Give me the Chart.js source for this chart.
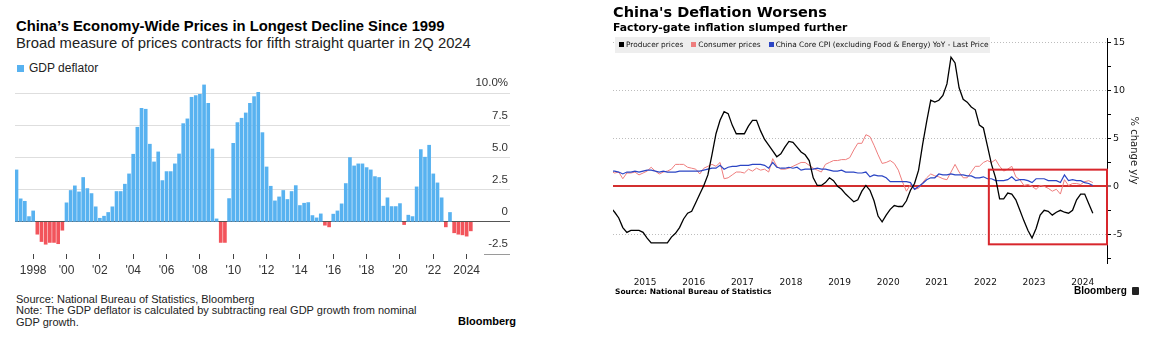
<!DOCTYPE html>
<html>
<head>
<meta charset="utf-8">
<title>China prices</title>
<script src="https://cdn.jsdelivr.net/npm/chart.js@4.4.1/dist/chart.umd.min.js"></script>
<style>
  body { margin: 0; width: 1154px; height: 337px; position: relative; overflow: hidden; background: #fff; color: #000; font-family: "Liberation Sans", Arial, sans-serif; }
  .abs { position: absolute; white-space: nowrap; }
  canvas { position: absolute; }
  /* left panel */
  #gdp-title { left: 16px; top: 17.5px; font-size: 14.8px; line-height: 17px; font-weight: bold; }
  #gdp-sub { left: 16px; top: 35px; font-size: 14.8px; line-height: 17px; color: #222; }
  #gdp-sq { left: 17px; top: 65px; width: 7px; height: 7px; background: #58b2f0; }
  #gdp-leg { left: 29px; top: 60.5px; font-size: 12px; line-height: 14px; color: #222; }
  #gdp-foot { left: 16px; top: 293.5px; font-size: 11px; line-height: 11.8px; color: #222; }
  #gdp-logo { left: 458px; top: 315px; font-size: 11px; line-height: 12px; font-weight: bold; }
  /* right panel */
  .r { font-family: "DejaVu Sans", sans-serif; }
  #cn-title { left: 613px; top: 3.8px; font-size: 14.5px; line-height: 17px; font-weight: bold; }
  #cn-sub { left: 613px; top: 20.5px; font-size: 10.8px; line-height: 13px; font-weight: bold; }
  #cn-leg { left: 615px; top: 37px; width: 375px; height: 16px; background: #eeeeee; font-size: 7.4px; line-height: 16px; padding-left: 4px; box-sizing: border-box; color: #111; }
  #cn-leg .sq { display: inline-block; width: 5px; height: 5px; margin-right: 2px; }
  #cn-leg .it { margin-right: 8px; }
  #cn-src { left: 615px; top: 287px; font-size: 7.5px; line-height: 10px; font-weight: bold; }
  #cn-logo { left: 1074px; top: 285px; font-size: 10px; line-height: 12px; font-weight: bold; font-family: "Liberation Sans", Arial, sans-serif; }
  #cn-icon { left: 1132px; top: 287px; width: 7px; height: 8px; background: #222; border-radius: 1px; }
</style>
</head>
<body>

<div id="gdp-title" class="abs">China’s Economy-Wide Prices in Longest Decline Since 1999</div>
<div id="gdp-sub" class="abs">Broad measure of prices contracts for fifth straight quarter in 2Q 2024</div>
<div id="gdp-sq" class="abs"></div>
<div id="gdp-leg" class="abs">GDP deflator</div>
<canvas id="gdp" width="540" height="215" style="left:0;top:70px"></canvas>
<div id="gdp-foot" class="abs">Source: National Bureau of Statistics, Bloomberg<br>Note: The GDP deflator is calculated by subtracting real GDP growth from nominal<br>GDP growth.</div>
<div id="gdp-logo" class="abs">Bloomberg</div>

<canvas id="cn" width="554" height="300" style="left:600px;top:0"></canvas>
<div id="cn-title" class="abs r">China's Deflation Worsens</div>
<div id="cn-sub" class="abs r">Factory-gate inflation slumped further</div>
<div id="cn-leg" class="abs r"><span class="sq" style="background:#000"></span><span class="it">Producer prices</span><span class="sq" style="background:#ee7d7d"></span><span class="it">Consumer prices</span><span class="sq" style="background:#2b45c4"></span><span>China Core CPI (excluding Food &amp; Energy) YoY - Last Price</span></div>
<div id="cn-src" class="abs r">Source: National Bureau of Statistics</div>
<div id="cn-logo" class="abs">Bloomberg</div>
<div id="cn-icon" class="abs"></div>

<script>
// GDP deflator, % y/y, quarterly from 1Q 1997
const gdpStartYear = 1997;
const gdpDeflator = [
  4.04, 1.79, 1.60, 0.41,     // 1997
  0.85, -0.96, -1.53, -1.74,  // 1998
  -1.60, -1.60, -1.70, -0.65, // 1999
  1.48, 2.44, 2.80, 2.33,     // 2000
  3.45, 2.59, 2.20, 1.17,     // 2001
  0.28, 0.44, 0.73, 1.17,     // 2002
  2.36, 2.36, 2.93, 3.73,     // 2003
  5.26, 7.36, 8.83, 8.76,     // 2004
  6.04, 4.66, 5.44, 3.21,     // 2005
  3.91, 3.91, 4.51, 5.28,     // 2006
  7.64, 8.01, 9.69, 9.82,     // 2007
  9.92, 10.65, 9.22, 5.67,    // 2008
  0.23, -1.60, -1.60, 1.81,   // 2009
  6.11, 7.72, 8.06, 8.47,     // 2010
  9.22, 9.74, 10.08, 6.94,    // 2011
  4.27, 2.77, 1.63, 1.94,     // 2012
  2.44, 1.74, 2.36, 2.82,     // 2013
  1.27, 1.45, 1.50, 0.49,     // 2014
  0.31, 0.62, -0.26, -0.39,   // 2015
  0.60, 0.85, 1.40, 2.98,     // 2016
  5.00, 4.35, 4.51, 4.51,     // 2017
  4.22, 4.04, 3.52, 3.45,     // 2018
  1.22, 1.87, 1.19, 1.19,     // 2019
  1.42, -0.21, 0.52, 0.41,    // 2020
  2.72, 5.62, 5.03, 5.96,     // 2021
  3.73, 3.03, 1.87, -0.39,    // 2022
  0.73, -0.85, -0.96, -1.01,  // 2023
  -1.11, -0.70                // 2024
];
const gdpTickYears = [1998, 2000, 2002, 2004, 2006, 2008, 2010, 2012, 2014, 2016, 2018, 2020, 2022, 2024];
const gdpTickLabels = ["1998", "'00", "'02", "'04", "'06", "'08", "'10", "'12", "'14", "'16", "'18", "'20", "'22", "2024"];
const gdpYTicks = [-2.5, 0, 2.5, 5, 7.5, 10];
const gdpYLabels = ["-2.5", "0", "2.5", "5.0", "7.5", "10.0%"];

// China monthly % y/y, from Oct 2014
const cnStart = 2014 + 9 / 12;
const producerPrices = [
  -2.2, -2.7, -3.3,
  -4.3, -4.8, -4.6, -4.6, -4.6, -4.8, -5.4, -5.9, -5.9, -5.9, -5.9, -5.9,
  -5.3, -4.9, -4.3, -3.4, -2.8, -2.6, -1.7, -0.8, 0.1, 1.2, 3.3, 5.5,
  6.9, 7.8, 7.6, 6.4, 5.5, 5.5, 5.5, 6.3, 6.9, 6.9, 5.8, 4.9,
  4.3, 3.7, 3.1, 3.4, 4.1, 4.7, 4.6, 4.1, 3.6, 3.3, 2.7, 0.9,
  0.1, 0.1, 0.4, 0.9, 0.6, 0.0, -0.3, -0.8, -1.2, -1.6, -1.4, -0.5,
  0.1, -0.4, -1.5, -3.1, -3.7, -3.0, -2.4, -2.0, -2.1, -2.1, -1.5, -0.4,
  0.3, 1.7, 4.4, 6.8, 9.0, 8.8, 9.0, 9.5, 10.7, 13.5, 12.9, 10.3,
  9.1, 8.8, 8.3, 8.0, 6.4, 6.1, 4.2, 2.3, 0.9, -1.3, -1.3, -0.7,
  -0.8, -1.4, -2.5, -3.6, -4.6, -5.4, -4.4, -3.0, -2.5, -2.6, -3.0, -2.7,
  -2.5, -2.7, -2.8, -2.5, -1.4, -0.8, -0.8, -1.8, -2.8
];
const consumerPrices = [
  1.6, 1.4, 1.5,
  0.8, 1.4, 1.4, 1.5, 1.2, 1.4, 1.6, 2.0, 1.6, 1.3, 1.5, 1.6,
  1.8, 2.3, 2.3, 2.3, 2.0, 1.9, 1.8, 1.3, 1.9, 2.1, 2.3, 2.1,
  2.5, 0.8, 0.9, 1.2, 1.5, 1.5, 1.4, 1.8, 1.6, 1.9, 1.7, 1.8,
  1.5, 2.9, 2.1, 1.8, 1.8, 1.9, 2.1, 2.3, 2.5, 2.5, 2.2, 1.9,
  1.7, 1.5, 2.3, 2.5, 2.7, 2.7, 2.8, 2.8, 3.0, 3.8, 4.5, 4.5,
  5.4, 5.2, 4.3, 3.3, 2.4, 2.5, 2.7, 2.4, 1.7, 0.5, -0.5, 0.2,
  -0.3, -0.2, 0.4, 0.9, 1.3, 1.1, 1.0, 0.8, 0.7, 1.5, 2.3, 1.5,
  0.9, 0.9, 1.5, 2.1, 2.1, 2.5, 2.7, 2.5, 2.8, 2.1, 1.6, 1.8,
  2.1, 1.0, 0.7, 0.1, 0.2, 0.0, -0.3, 0.1, 0.0, -0.2, -0.5, -0.3,
  -0.8, 0.7, 0.1, 0.3, 0.3, 0.2, 0.5, 0.6, 0.4
];
const coreCpi = [
  1.6, 1.6, 1.5,
  1.3, 1.5, 1.5, 1.6, 1.5, 1.6, 1.7, 1.7, 1.6, 1.5, 1.6, 1.5,
  1.5, 1.5, 1.6, 1.6, 1.6, 1.6, 1.6, 1.6, 1.7, 1.8, 1.9, 1.9,
  2.2, 1.8, 2.0, 2.1, 2.1, 2.2, 2.2, 2.2, 2.3, 2.3, 2.3, 2.2,
  1.9, 2.5, 2.0, 1.9, 1.9, 2.0, 1.9, 2.0, 1.7, 1.8, 1.8, 1.8,
  1.9, 1.8, 1.8, 1.7, 1.6, 1.6, 1.7, 1.5, 1.5, 1.5, 1.4, 1.4,
  1.5, 1.0, 1.2, 1.1, 1.1, 0.9, 0.5, 0.5, 0.5, 0.5, 0.5, 0.4,
  -0.3, 0.0, 0.3, 0.7, 0.9, 0.9, 1.3, 1.2, 1.2, 1.3, 1.2, 1.2,
  1.2, 1.1, 1.1, 0.9, 0.9, 1.0, 0.8, 0.8, 0.6, 0.6, 0.6, 0.7,
  1.0, 0.6, 0.7, 0.7, 0.6, 0.4, 0.8, 0.8, 0.8, 0.6, 0.6, 0.6,
  0.4, 1.2, 0.6, 0.7, 0.6, 0.6, 0.4, 0.3, 0.1
];
const cnYears = [2015, 2016, 2017, 2018, 2019, 2020, 2021, 2022, 2023, 2024];
const cnYTicks = [-7.5, -5, -2.5, 0, 2.5, 5, 7.5, 10, 12.5, 15];
const highlight = { from: 2022.57, to: 2025.0, top: 1.75, bottom: -6.05 };

const BLUE = "#58b2f0";
const RED = "#f2545b";

// short stub of the bottom gridline, only under its label
const lowGridStub = {
  id: "lowGridStub",
  beforeDatasetsDraw(chart) {
    const { ctx, chartArea, scales: { y } } = chart;
    const py = Math.round(y.getPixelForValue(gdpYTicks[0])) + 0.5;
    ctx.save();
    ctx.strokeStyle = "#9a9a9a";
    ctx.lineWidth = 1;
    ctx.beginPath();
    ctx.moveTo(chartArea.right - 26, py);
    ctx.lineTo(chartArea.right, py);
    ctx.stroke();
    ctx.restore();
  }
};

new Chart(document.getElementById("gdp"), {
  type: "bar",
  data: {
    datasets: [{
      data: gdpDeflator.map((v, i) => ({ x: gdpStartYear + i / 4, y: v })),
      backgroundColor: c => (c.raw && c.raw.y < 0 ? RED : BLUE),
      borderWidth: 0,
      barThickness: 3
    }]
  },
  options: {
    responsive: false,
    animation: false,
    layout: { padding: { left: 15, top: 13, right: 0, bottom: 0 } },
    plugins: { legend: { display: false }, tooltip: { enabled: false } },
    scales: {
      x: {
        type: "linear",
        min: 1996.91,
        max: 2026.6,
        offset: false,
        afterBuildTicks: s => { s.ticks = gdpTickYears.map(v => ({ value: v })); },
        ticks: {
          callback: v => gdpTickLabels[gdpTickYears.indexOf(v)],
          font: { family: "Liberation Sans", size: 12 },
          color: "#333",
          padding: 4,
          maxRotation: 0,
          autoSkip: false
        },
        grid: { drawOnChartArea: false, offset: false, tickLength: 5, tickColor: "#444" },
        border: { display: false },
        afterFit: s => { s.height = 31; }
      },
      y: {
        position: "right",
        min: -2.5,
        max: 10.8,
        afterBuildTicks: s => { s.ticks = gdpYTicks.map(v => ({ value: v })); },
        ticks: {
          mirror: true,
          padding: -2,
          labelOffset: -10,
          callback: v => gdpYLabels[gdpYTicks.indexOf(v)],
          font: { family: "Liberation Sans", size: 11.5 },
          color: "#333"
        },
        grid: {
          drawTicks: false,
          color: c => {
            const v = c.tick ? c.tick.value : null;
            if (v === 0) return "#555";
            if (v === gdpYTicks[0]) return "rgba(0,0,0,0)";
            return "#dedede";
          }
        },
        border: { display: false },
        afterFit: s => { s.width = 30; }
      }
    }
  },
  plugins: [lowGridStub]
});

// red frame over the latest period
const highlightBox = {
  id: "highlightBox",
  afterDatasetsDraw(chart) {
    const { ctx, scales: { x, y } } = chart;
    const l = x.getPixelForValue(highlight.from), r = x.getPixelForValue(highlight.to);
    const t = y.getPixelForValue(highlight.top), b = y.getPixelForValue(highlight.bottom);
    ctx.save();
    ctx.strokeStyle = "#d8262c";
    ctx.lineWidth = 2;
    ctx.strokeRect(l, t, r - l, b - t);
    ctx.restore();
  }
};

const monthly = arr => arr.map((v, i) => ({ x: cnStart + (i + 0.5) / 12, y: v }));

new Chart(document.getElementById("cn"), {
  type: "line",
  data: {
    datasets: [
      { data: monthly(producerPrices), borderColor: "#000", borderWidth: 1.3, pointRadius: 0 },
      { data: monthly(coreCpi), borderColor: "#2b45c4", borderWidth: 1.2, pointRadius: 0 },
      { data: monthly(consumerPrices), borderColor: "#ee7d7d", borderWidth: 1, pointRadius: 0 }
    ]
  },
  options: {
    responsive: false,
    animation: false,
    layout: { padding: { left: 13, top: 38, right: 14, bottom: 0 } },
    plugins: { legend: { display: false }, tooltip: { enabled: false } },
    scales: {
      x: {
        type: "linear",
        min: 2014.84,
        max: 2025.0,
        afterBuildTicks: s => { s.ticks = cnYears.map(yr => ({ value: yr + 0.5 })); },
        ticks: {
          callback: v => String(Math.floor(v)),
          font: { family: "DejaVu Sans", size: 9 },
          color: "#111",
          padding: 6,
          maxRotation: 0,
          autoSkip: false
        },
        grid: { display: false },
        border: { display: false },
        afterFit: s => { s.height = 37; }
      },
      y: {
        position: "right",
        min: -8,
        max: 15.5,
        afterBuildTicks: s => { s.ticks = cnYTicks.map(v => ({ value: v })); },
        ticks: {
          callback: v => (v % 5 === 0 ? String(v) : ""),
          font: { family: "DejaVu Sans", size: 9.5 },
          color: "#111",
          padding: 2,
          autoSkip: false
        },
        grid: {
          color: c => {
            const v = c.tick ? c.tick.value : null;
            if (v === 0) return "#d32f2f";
            if (v !== null && v % 5 === 0) return "#bdbdbd";
            return "rgba(0,0,0,0)";
          },
          lineWidth: c => (c.tick && c.tick.value === 0 ? 2 : 1),
          tickLength: 4,
          tickColor: "#000",
          tickWidth: 1
        },
        border: {
          color: "#000",
          width: 1,
          dash: c => (c.tick && c.tick.value !== 0 && c.tick.value % 5 === 0 ? [1, 2] : [])
        },
        title: {
          display: true,
          text: "% change y/y",
          font: { family: "DejaVu Sans", size: 10 },
          color: "#222",
          padding: 0
        },
        afterFit: s => { s.width = 33; }
      }
    }
  },
  plugins: [highlightBox]
});
</script>
</body>
</html>
